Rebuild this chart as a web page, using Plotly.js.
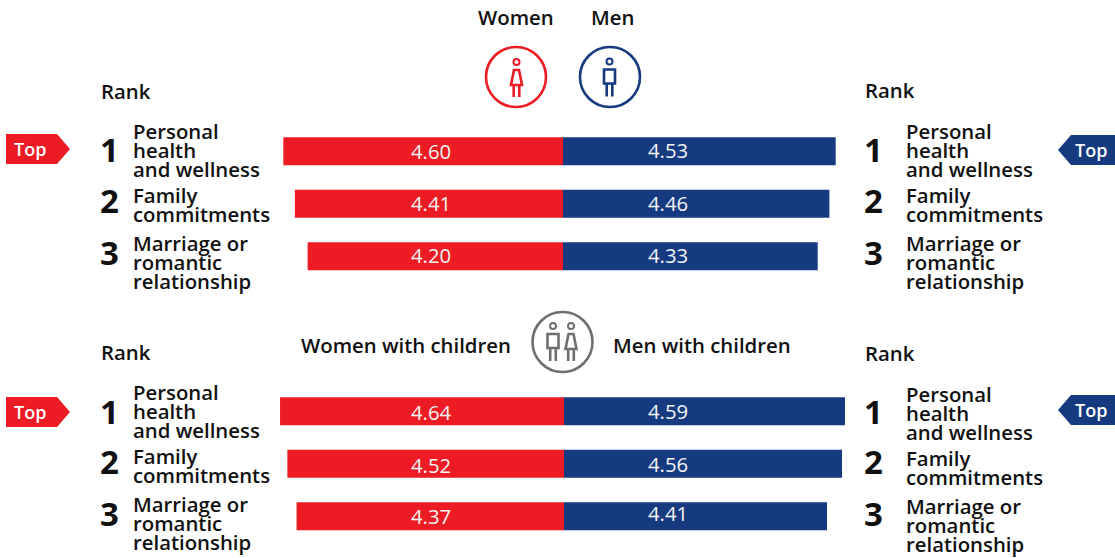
<!DOCTYPE html>
<html><head><meta charset="utf-8">
<script src="https://cdn.plot.ly/plotly-3.0.1.min.js"></script>
<style>html,body{margin:0;padding:0;background:#fff}#c{width:1115px;height:558px}</style></head>
<body><div id="c"></div>
<script>
const categories = ['Personal health and wellness','Family commitments','Marriage or romantic relationship'];
const women = [4.60,4.41,4.20];
const men = [4.53,4.46,4.33];
const womenChildren = [4.64,4.52,4.37];
const menChildren = [4.59,4.56,4.41];
const categoryLines = [['Personal','health','and wellness'],['Family','commitments'],['Marriage or','romantic','relationship']];
const RED='#ED1C24', BLUE='#153A80', GREY='#6D6F72', INK='#111111';
const W=1115,H=558;
const px=x=>x/W, py=y=>1-y/H;
const FONT='"Open Sans"';
function bar(x,xa,ya,color){return {type:'bar',orientation:'h',x:x,y:categories,xaxis:xa,yaxis:ya,
  marker:{color:color,line:{width:0}},hoverinfo:'x+y'};}
const data=[bar(women,'x','y',RED),bar(men,'x2','y',BLUE),bar(womenChildren,'x3','y2',RED),bar(menChildren,'x4','y2',BLUE)];
const annotations=[];
function txt(s,x,y,size,color,weight,anchor){annotations.push({text:s,xref:'paper',yref:'paper',x:px(anchor?x:x-1),y:py(y-1),
  xanchor:anchor||'left',yanchor:'middle',showarrow:false,borderpad:0,
  font:{family:FONT,size:size,color:color||INK,weight:weight||600}});}
const shapes=[];
function pth(d,color,fill,w){shapes.push({type:'path',xref:'paper',yref:'paper',path:d,
  line:{color:color,width:w===undefined?2:w},fillcolor:fill||'rgba(0,0,0,0)'});}
function P(pts,close){return pts.map((p,i)=>(i?'L':'M')+px(p[0])+','+py(p[1])).join(' ')+(close?' Z':'');}
function circ(cx,cy,r,color,w){shapes.push({type:'circle',xref:'paper',yref:'paper',x0:px(cx-r),x1:px(cx+r),y0:py(cy+r),y1:py(cy-r),
  line:{color:color,width:w},fillcolor:'rgba(0,0,0,0)'});}
const SW=2.6;
function manIcon(cx,top,color){circ(cx,top,3,color,2);
  pth(P([[cx-5.5,top+8],[cx+5.5,top+8],[cx+5.5,top+22],[cx-5.5,top+22]],true),color,null,SW);
  pth(P([[cx-2.8,top+22],[cx-2.8,top+35]]),color,null,SW);pth(P([[cx+2.8,top+22],[cx+2.8,top+35]]),color,null,SW);}
function womanIcon(cx,top,color){circ(cx,top,3,color,2);
  pth(P([[cx-2.5,top+8],[cx+2.5,top+8],[cx+5.5,top+23],[cx-5.5,top+23]],true),color,null,SW);
  pth(P([[cx-2.8,top+23],[cx-2.8,top+35]]),color,null,SW);pth(P([[cx+2.8,top+23],[cx+2.8,top+35]]),color,null,SW);}

const LS=20.35;
// headers
txt('Women',515.5,18,LS,INK,600,'center');
txt('Men',612.5,18,LS,INK,600,'center');
txt('Women with children',406,346,LS,INK,600,'center');
txt('Men with children',702,346,LS,INK,600,'center');
txt('Rank',101,92,LS);txt('Rank',864.5,91,LS);txt('Rank',101,353,LS);txt('Rank',864.5,354,LS);
// category & rank columns
function column(xNum,xTxt,numY,lineY){
  categoryLines.forEach((lines,i)=>{
    txt(String(i+1),xNum,numY[i],33,INK,700,'center');
    lines.forEach((l,j)=>txt(l,xTxt,lineY[i]+j*19,LS));
  });
}
column(109,133,[150,201,253],[132,196,244]);
column(873,906.5,[150,201,253],[132,196,244]);
column(109,133,[412,462,514],[393,457,505]);
column(873,906.5,[412,462,514],[395,459,507]);
// value labels
function labels(vals,x,ys){vals.forEach((v,i)=>txt(v.toFixed(2),x,ys[i],20.3,'#F4F4F4',400,'center'));}
labels(women,431.5,[152,204,256]);
labels(men,668,[151,204,256]);
labels(womenChildren,431.5,[413,466,517]);
labels(menChildren,668,[412,465,514]);
// Top tags
function tagL(y0){pth(P([[6,y0],[57,y0],[70,y0+15],[57,y0+30],[6,y0+30]],true),RED,RED,0);}
function tagR(y0){pth(P([[1115,y0],[1071,y0],[1058,y0+15],[1071,y0+30],[1115,y0+30]],true),BLUE,BLUE,0);}
tagL(134);tagR(135);tagL(397);tagR(395);
txt('Top',30,150,18,'#FFFFFF',600,'center');txt('Top',1091,151,18,'#FFFFFF',600,'center');
txt('Top',30,413,18,'#FFFFFF',600,'center');txt('Top',1091,411,18,'#FFFFFF',600,'center');
// icons
circ(516,77,30,RED,2.6);womanIcon(516.5,62,RED);
circ(610,77,30,BLUE,2.6);manIcon(609.5,61.5,BLUE);
circ(562.5,342,30,GREY,2.6);manIcon(553,326,GREY);womanIcon(571,326,GREY);

const hid={visible:false,fixedrange:true};
const layout={width:W,height:H,margin:{l:0,r:0,t:0,b:0},paper_bgcolor:'#fff',plot_bgcolor:'rgba(0,0,0,0)',
  showlegend:false,bargap:0.467,font:{family:FONT},
  xaxis:{...hid,domain:[0,563/W],range:[563/60.8,0],anchor:'y'},
  xaxis2:{...hid,domain:[563/W,1],range:[1.5,1.5+552/90],anchor:'y'},
  xaxis3:{...hid,domain:[0,564/W],range:[564/61.2,0],anchor:'y2'},
  xaxis4:{...hid,domain:[564/W,1],range:[1.78,1.78+551/100],anchor:'y2'},
  yaxis:{...hid,type:'category',domain:[py(282.5),py(125)],autorange:'reversed',anchor:'x'},
  yaxis2:{...hid,type:'category',domain:[py(542.5),py(385)],autorange:'reversed',anchor:'x3'},
  annotations:annotations,shapes:shapes};
Plotly.newPlot('c',data,layout,{displayModeBar:false,staticPlot:true});
</script></body></html>
